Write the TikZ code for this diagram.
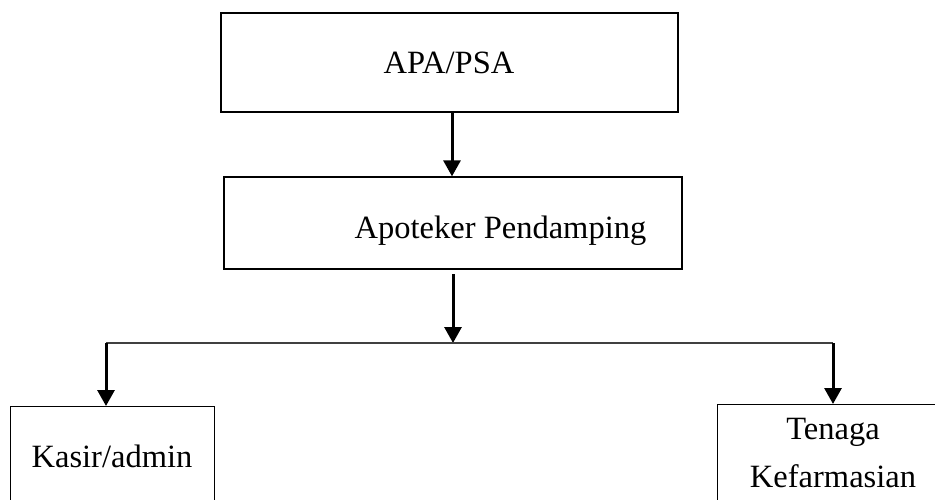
\documentclass[tikz,border=0pt]{standalone}
\usepackage{fontspec}
\setmainfont{Liberation Serif}
\usetikzlibrary{arrows.meta,positioning}

\begin{document}
\begin{tikzpicture}[x=1pt,y=-1pt,
    box/.style={rectangle,draw,line width=1.3pt,inner sep=0pt,align=center,
                font=\fontsize{32.5}{48}\selectfont},
    txt/.style={font=\fontsize{32.5}{48}\selectfont,anchor=base,align=center},
    arr/.style={-{Triangle[width=17pt,length=16pt]},line width=3pt},
    hline/.style={line width=1.8pt,draw=black!75}]
  \useasboundingbox (0,0) rectangle (935,500);
  \clip (0,0) rectangle (935,500);
  % boxes
  \node[box,minimum width=457pt,minimum height=99pt] (apa) at (449.5,62.5) {};
  \node[txt] (apatxt) at (449,74) {APA/PSA};
  \node[box,minimum width=458pt,minimum height=92pt] (apd) at (453,223) {};
  \node[txt] (apdtxt) at (500.5,238) {Apoteker Pendamping};
  \node[box,minimum width=204pt,minimum height=110pt,anchor=north west] (kasir) at (10,406) {};
  \node[txt] (kasirtxt) at (112,467) {Kasir/admin};
  \node[box,minimum width=270pt,minimum height=110pt,anchor=north west] (tenaga) at (717,404) {};
  \node[txt] (tenagatxt) at (833,487) {Tenaga\\Kefarmasian};
  % connectors
  \coordinate (split) at (453,343);
  \coordinate (bl) at (106,343);
  \coordinate (br) at (833,343);
  \draw[arr] (apa.south -| 452,0) -- (apd.north -| 452,0);
  \draw[arr] (453,274) -- (split);
  \draw[hline] (bl) -- (br);
  \draw[arr] (bl) -- (kasir.north -| bl);
  \draw[arr] (br) -- (tenaga.north -| br);
\end{tikzpicture}
\end{document}
